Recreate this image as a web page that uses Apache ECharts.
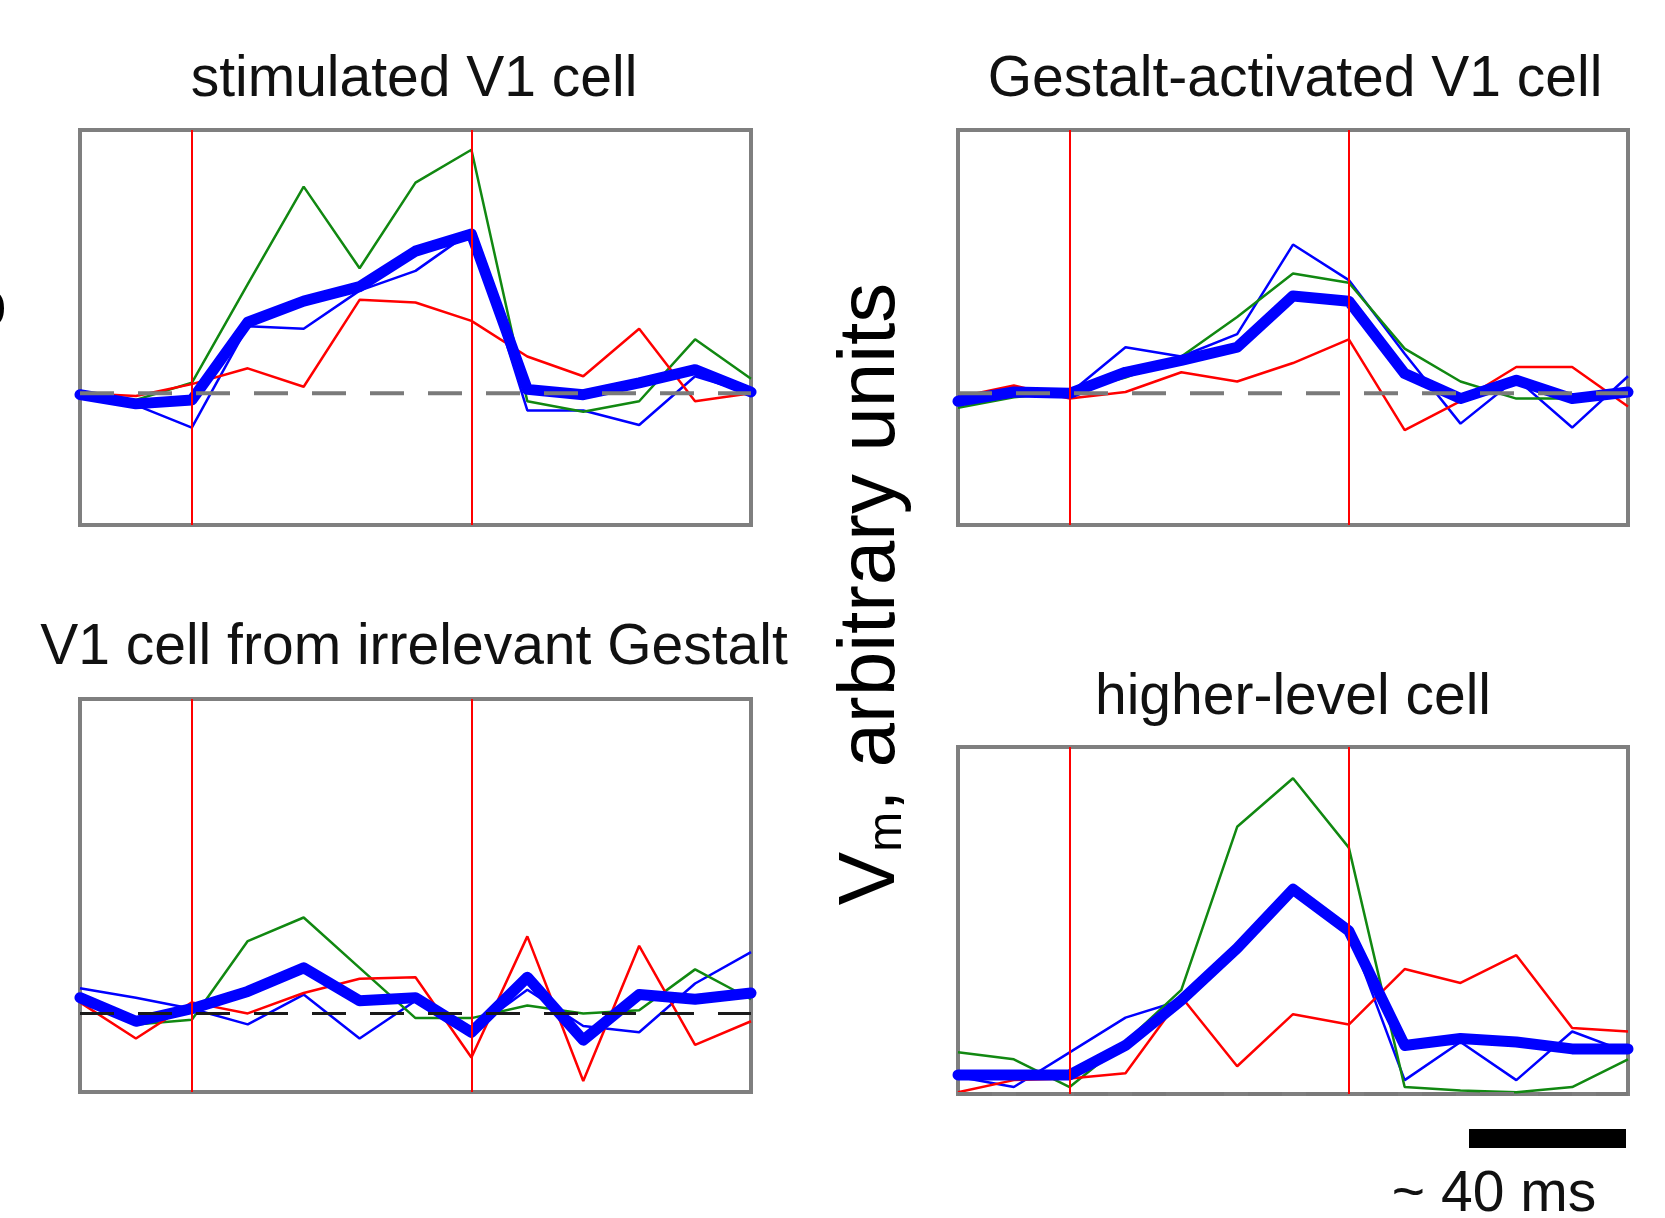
<!DOCTYPE html>
<html><head><meta charset="utf-8">
<script src="https://cdn.jsdelivr.net/npm/echarts@6/dist/echarts.min.js"></script>
<style>html,body{margin:0;padding:0;background:#fff}#c{width:1665px;height:1218px}</style>
</head><body><div id="c"></div>
<script>
// time steps (index) and stimulus on/off markers
const timeSteps = [0,1,2,3,4,5,6,7,8,9,10,11,12];
const stimMarkers = [2, 7];
const baseline = [0, 0];

const panelTitles = ["stimulated V1 cell", "Gestalt-activated V1 cell", "V1 cell from irrelevant Gestalt", "higher-level cell"];
const yLabel = "V_m, arbitrary units";
const scaleLabel = "~ 40 ms";

// stimulated V1 cell
const stimGreen = [-0.03,-0.05,0.08,0.83,1.57,0.95,1.60,1.85,-0.06,-0.14,-0.06,0.41,0.11];
const stimRed   = [0.00,-0.02,0.07,0.19,0.05,0.71,0.69,0.55,0.28,0.13,0.49,-0.06,0.00];
const stimBlue  = [0.02,-0.09,-0.26,0.51,0.49,0.78,0.93,1.23,-0.13,-0.13,-0.24,0.13,0.00];
const stimMean  = [-0.01,-0.08,-0.05,0.54,0.70,0.81,1.08,1.21,0.03,-0.01,0.08,0.18,0.01];

// Gestalt-activated V1 cell
const gestGreen = [-0.11,-0.03,0.01,0.12,0.28,0.58,0.91,0.84,0.34,0.09,-0.04,-0.04,0.00];
const gestRed   = [-0.03,0.06,-0.04,0.01,0.16,0.09,0.23,0.41,-0.28,-0.06,0.20,0.20,-0.10];
const gestBlue  = [-0.02,0.01,0.00,0.35,0.28,0.45,1.13,0.86,0.30,-0.23,0.11,-0.26,0.13];
const gestMean  = [-0.06,0.01,0.00,0.16,0.25,0.35,0.74,0.70,0.15,-0.04,0.10,-0.04,0.01];

// V1 cell from irrelevant Gestalt
const irrGreen = [0.09,-0.07,-0.04,0.46,0.61,0.29,-0.03,-0.03,0.05,0.00,0.02,0.28,0.09];
const irrRed   = [0.07,-0.16,0.07,0.00,0.13,0.22,0.23,-0.28,0.49,-0.43,0.43,-0.20,-0.05];
const irrBlue  = [0.16,0.10,0.03,-0.07,0.12,-0.16,0.08,-0.11,0.15,-0.08,-0.12,0.19,0.39];
const irrMean  = [0.10,-0.05,0.03,0.14,0.29,0.08,0.10,-0.12,0.23,-0.17,0.12,0.09,0.13];

// higher-level cell
const highGreen = [0.12,0.10,0.02,0.15,0.30,0.77,0.91,0.71,0.02,0.01,0.005,0.02,0.10];
const highRed   = [0.005,0.04,0.045,0.06,0.28,0.08,0.23,0.20,0.36,0.32,0.40,0.19,0.18];
const highBlue  = [0.05,0.02,0.12,0.22,0.27,0.42,0.59,0.47,0.04,0.15,0.04,0.18,0.12];
const highMean  = [0.055,0.055,0.055,0.14,0.27,0.42,0.59,0.47,0.14,0.16,0.15,0.13,0.13];

const yRanges = [[-1,2],[-1,2],[-0.5,2],[0,1]];

const panels = [
  {green: stimGreen, red: stimRed, blue: stimBlue, mean: stimMean},
  {green: gestGreen, red: gestRed, blue: gestBlue, mean: gestMean},
  {green: irrGreen,  red: irrRed,  blue: irrBlue,  mean: irrMean},
  {green: highGreen, red: highRed, blue: highBlue, mean: highMean}
];

const gridBoxes = [
  {left: 80,  top: 130, width: 671, height: 395},
  {left: 958, top: 130, width: 670, height: 395},
  {left: 80,  top: 699, width: 671, height: 393},
  {left: 958, top: 747, width: 670, height: 347}
];
const dashColors = ['#7a7a7a', '#7a7a7a', '#1a1a1a', '#7a7a7a'];
const dashWidths = [4, 4, 3, 4];

const FONT = '"Liberation Sans", Arial, Helvetica, sans-serif';
const pts = arr => timeSteps.map((t, i) => [t, arr[i]]);

const grid = [], xAxis = [], yAxis = [], series = [];
panels.forEach((p, k) => {
  grid.push(Object.assign({show: true, borderColor: '#7f7f7f', borderWidth: 4, backgroundColor: '#fff'}, gridBoxes[k]));
  xAxis.push({type: 'value', gridIndex: k, min: 0, max: 12, show: false, splitLine: {show: false}});
  yAxis.push({type: 'value', gridIndex: k, min: yRanges[k][0], max: yRanges[k][1], show: false, splitLine: {show: false}});
  const common = {type: 'line', xAxisIndex: k, yAxisIndex: k, symbol: 'none', silent: true, animation: false};
  series.push(Object.assign({}, common, {
    data: pts(p.blue), lineStyle: {color: '#0000ff', width: 2.5},
    markLine: {silent: true, symbol: 'none', label: {show: false}, animation: false,
      lineStyle: {color: '#ff0000', width: 2, type: 'solid'},
      data: stimMarkers.map(v => ({xAxis: v}))}
  }));
  series.push(Object.assign({}, common, {data: pts(p.green), lineStyle: {color: '#118811', width: 2.5}}));
  series.push(Object.assign({}, common, {data: pts(p.red), lineStyle: {color: '#ff0000', width: 2.5}}));
  series.push(Object.assign({}, common, {data: pts(p.mean), lineStyle: {color: '#0000ff', width: 11, join: 'round', cap: 'round'}}));
  series.push(Object.assign({}, common, {
    data: [[0, baseline[0]], [12, baseline[1]]],
    lineStyle: {color: dashColors[k], width: dashWidths[k], type: [34, 24]}
  }));
});

const titlePos = [[414, 80], [1295, 80], [414, 648], [1293, 698]];
const graphic = panelTitles.map((t, i) => ({
  type: 'text', x: titlePos[i][0], y: titlePos[i][1], silent: true,
  style: {text: t, fontSize: 57, fontFamily: FONT, fill: '#111', align: 'center', verticalAlign: 'middle'}
}));
const parts = yLabel.split('_');
graphic.push({
  type: 'text', x: 872, y: 594, rotation: Math.PI / 2, silent: true,
  style: {
    text: '{a|' + parts[0] + '}{b|' + parts[1].charAt(0) + '}{a|' + parts[1].slice(1) + '}',
    align: 'center', verticalAlign: 'middle', fill: '#000',
    rich: {
      a: {fontSize: 80, fontFamily: FONT, fill: '#000', verticalAlign: 'bottom'},
      b: {fontSize: 48, fontFamily: FONT, fill: '#000', verticalAlign: 'bottom'}
    }
  }
});
graphic.push({
  type: 'text', x: -19, y: 308, rotation: Math.PI / 2, silent: true,
  style: {text: 's', fontSize: 80, fontFamily: FONT, fill: '#000', align: 'center', verticalAlign: 'middle'}
});
graphic.push({type: 'rect', silent: true, shape: {x: 1469, y: 1129, width: 157, height: 19}, style: {fill: '#000'}});
graphic.push({
  type: 'text', x: 1494, y: 1195, silent: true,
  style: {text: scaleLabel, fontSize: 57, fontFamily: FONT, fill: '#111', align: 'center', verticalAlign: 'middle'}
});

const chart = echarts.init(document.getElementById('c'), null, {renderer: 'canvas'});
chart.setOption({backgroundColor: '#fff', animation: false, grid, xAxis, yAxis, series, graphic});
</script>
</body></html>
